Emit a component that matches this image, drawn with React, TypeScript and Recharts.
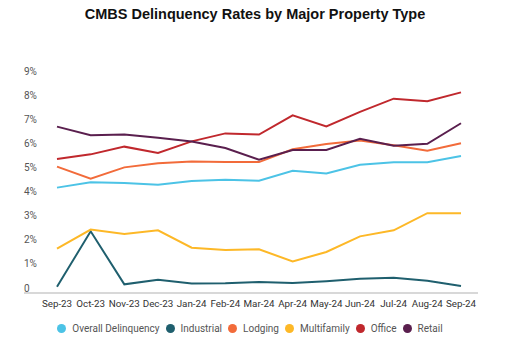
import React from 'react';
import { LineChart, Line, XAxis, YAxis } from 'recharts';

const months = [
  'Sep-23', 'Oct-23', 'Nov-23', 'Dec-23', 'Jan-24', 'Feb-24', 'Mar-24',
  'Apr-24', 'May-24', 'Jun-24', 'Jul-24', 'Aug-24', 'Sep-24',
];

const overall = [4.37, 4.59, 4.56, 4.49, 4.65, 4.7, 4.66, 5.07, 4.96, 5.32, 5.42, 5.42, 5.68];
const industrial = [0.26, 2.56, 0.36, 0.55, 0.39, 0.4, 0.46, 0.41, 0.49, 0.59, 0.63, 0.51, 0.29];
const lodging = [5.24, 4.74, 5.21, 5.38, 5.45, 5.43, 5.43, 5.96, 6.18, 6.32, 6.13, 5.9, 6.21];
const multifamily = [1.84, 2.63, 2.45, 2.6, 1.88, 1.78, 1.81, 1.31, 1.7, 2.35, 2.6, 3.31, 3.31];
const office = [5.56, 5.75, 6.07, 5.81, 6.29, 6.62, 6.57, 7.37, 6.91, 7.51, 8.06, 7.95, 8.32];
const retail = [6.9, 6.54, 6.57, 6.44, 6.28, 6.01, 5.53, 5.93, 5.93, 6.4, 6.11, 6.19, 7.04];

const yTicks = [0, 1, 2, 3, 4, 5, 6, 7, 8, 9];

const series = [
  { key: 'overall', name: 'Overall Delinquency', color: '#4cc3e6', values: overall },
  { key: 'industrial', name: 'Industrial', color: '#1f5f6e', values: industrial },
  { key: 'lodging', name: 'Lodging', color: '#f26b3a', values: lodging },
  { key: 'multifamily', name: 'Multifamily', color: '#fdb827', values: multifamily },
  { key: 'office', name: 'Office', color: '#c0282d', values: office },
  { key: 'retail', name: 'Retail', color: '#5a1f4e', values: retail },
];

const data = months.map((m, i) => {
  const row: Record<string, string | number> = { month: m };
  series.forEach((s) => {
    row[s.key] = s.values[i];
  });
  return row;
});

// y labels sit a little above their value, left aligned inside the plot
const renderYTick = (props: any) => {
  const { y, payload } = props;
  return (
    <text x={24} y={y - 5} dy="0.355em" textAnchor="start" fontSize={10} fill="#555" fontFamily="Roboto, sans-serif">
      {payload.value === 0 ? '0' : `${payload.value}%`}
    </text>
  );
};

export default function App() {
  return (
    <div style={{ position: 'absolute', left: 0, top: 0, width: 506, height: 355, background: '#fff' }}>
      <div
        style={{
          position: 'absolute',
          top: 6,
          left: 0,
          width: 506,
          textAlign: 'center',
          fontFamily: '"Liberation Sans", Arial, sans-serif',
          fontWeight: 'bold',
          fontSize: 14.5,
          color: '#111',
          paddingLeft: 2,
        }}
      >
        CMBS Delinquency Rates by Major Property Type
      </div>
      {/* baseline under the plot */}
      <div style={{ position: 'absolute', left: 24, top: 292, width: 454, height: 2, background: '#d8d8d8' }} />
      <div style={{ position: 'absolute', left: 0, top: 0 }}>
        <LineChart width={506} height={355} data={data} margin={{ top: 76, right: 28, bottom: 32, left: 0 }}>
          <XAxis
            dataKey="month"
            interval={0}
            height={30}
            padding={{ left: 33, right: 17 }}
            axisLine={false}
            tickLine={false}
            tickMargin={1}
            tick={{ fontSize: 9.8, fill: '#333', fontFamily: 'Roboto, sans-serif' }}
          />
          <YAxis
            width={24}
            domain={[0, 9]}
            ticks={yTicks}
            axisLine={false}
            tickLine={false}
            tick={renderYTick}
          />
          {series.map((s) => (
            <Line
              key={s.key}
              type="linear"
              dataKey={s.key}
              name={s.name}
              stroke={s.color}
              strokeWidth={2}
              dot={false}
              isAnimationActive={false}
            />
          ))}
        </LineChart>
      </div>
      <div
        style={{
          position: 'absolute',
          top: 323,
          left: 0,
          width: 506,
          display: 'flex',
          justifyContent: 'center',
          fontFamily: 'Roboto, sans-serif',
          fontSize: 10,
          color: '#555',
        }}
      >
        {series.map((s) => (
          <div key={s.key} style={{ display: 'flex', alignItems: 'center', marginRight: 6 }}>
            <span
              style={{
                display: 'inline-block',
                width: 9,
                height: 9,
                borderRadius: '50%',
                background: s.color,
                marginRight: 6,
              }}
            />
            <span>{s.name}</span>
          </div>
        ))}
      </div>
    </div>
  );
}
